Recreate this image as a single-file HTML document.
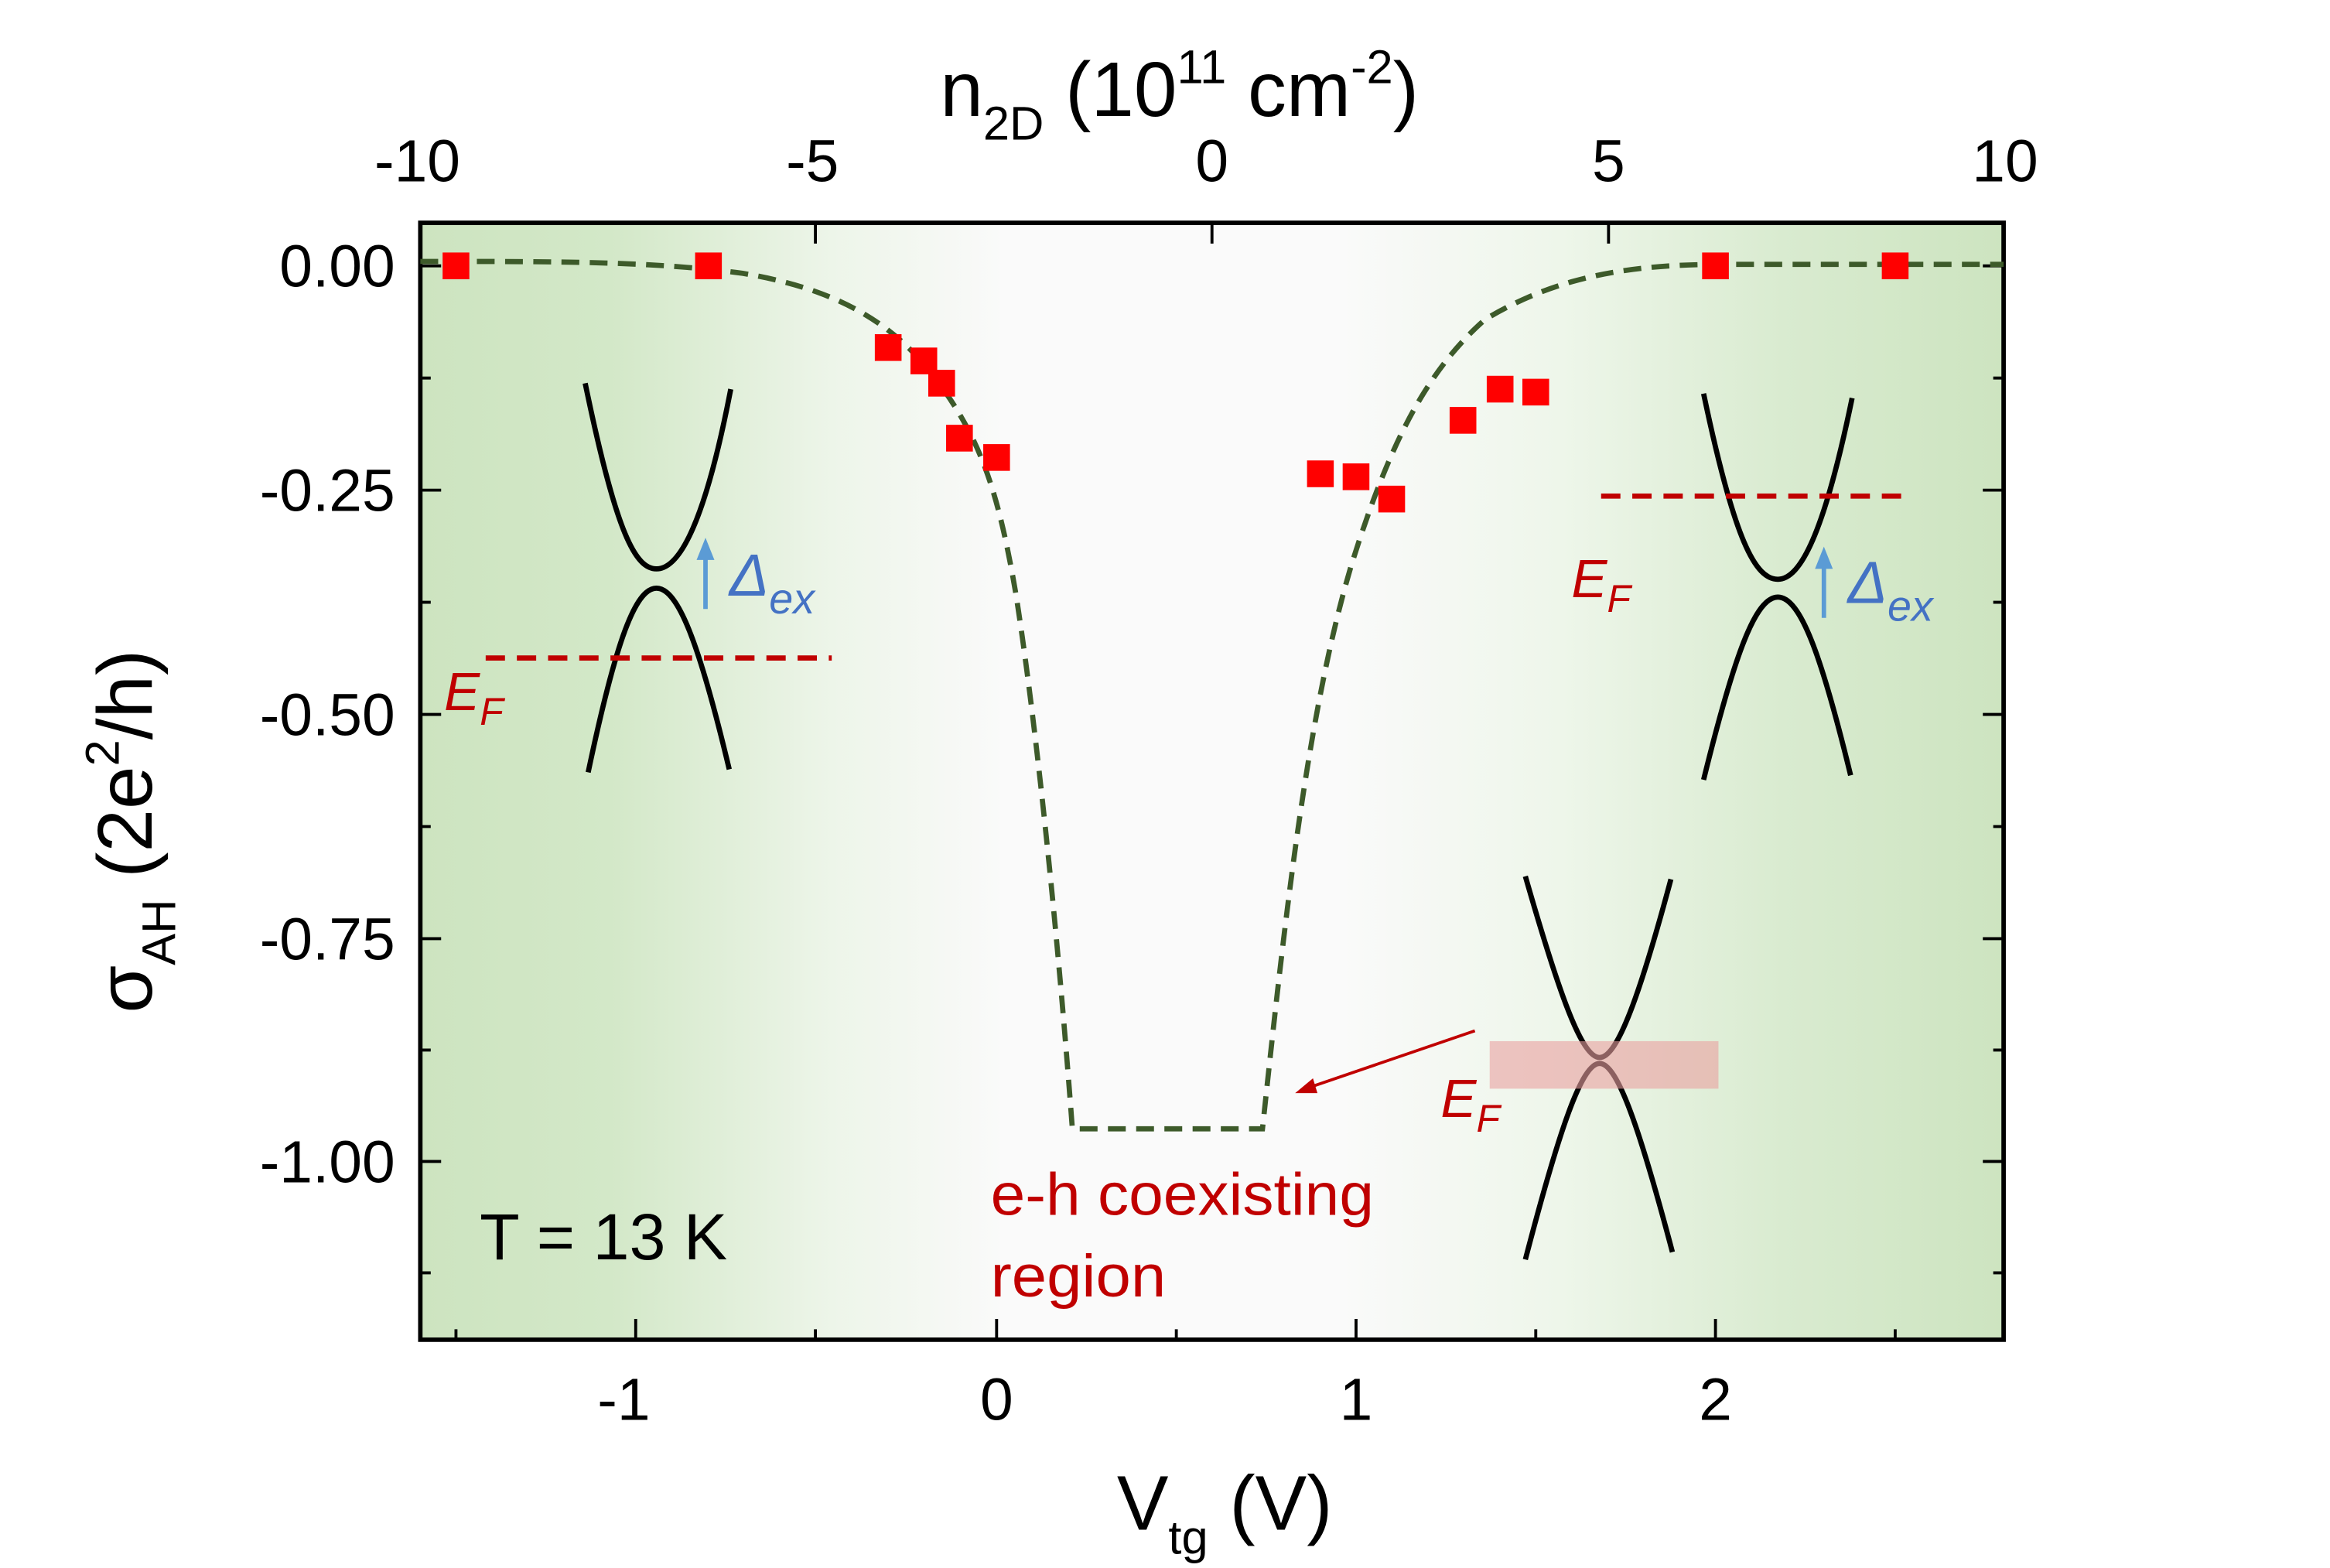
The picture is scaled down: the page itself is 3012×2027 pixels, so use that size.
<!DOCTYPE html>
<html><head><meta charset="utf-8"><style>
html,body{margin:0;padding:0;background:#fff;}
svg{display:block;}
text{font-family:"Liberation Sans",Arial,sans-serif;}
</style></head><body>
<svg width="3012" height="2027" viewBox="0 0 1568.75 1055.7" xmlns="http://www.w3.org/2000/svg">
<defs>
<linearGradient id="bg" x1="283" y1="0" x2="1349" y2="0" gradientUnits="userSpaceOnUse">
<stop offset="0" stop-color="#cde4c0"/>
<stop offset="0.12" stop-color="#d3e8c8"/>
<stop offset="0.26" stop-color="#edf5e9"/>
<stop offset="0.37" stop-color="#fafafa"/>
<stop offset="0.58" stop-color="#fafafa"/>
<stop offset="0.72" stop-color="#eef6ea"/>
<stop offset="0.86" stop-color="#d9ebd0"/>
<stop offset="1" stop-color="#cde4c0"/>
</linearGradient>
</defs>
<rect x="283" y="150" width="1066" height="752" fill="url(#bg)"/>

<g stroke="#000" stroke-width="2">
<path d="M283,179h14M283,330h14M283,481h14M283,632h14M283,782h14"/>
<path d="M283,254.5h7M283,405.5h7M283,556.5h7M283,707h7M283,857h7"/>
<path d="M1349,179h-14M1349,330h-14M1349,481h-14M1349,632h-14M1349,782h-14"/>
<path d="M1349,254.5h-7M1349,405.5h-7M1349,556.5h-7M1349,707h-7M1349,857h-7"/>
<path d="M428,902v-14M671,902v-14M913,902v-14M1155,902v-14"/>
<path d="M307,902v-7M549,902v-7M792,902v-7M1034,902v-7M1276,902v-7"/>
<path d="M549,150v14M816,150v14M1083,150v14"/>
</g>
<rect x="283" y="150" width="1066" height="752" fill="none" stroke="#000" stroke-width="3"/>

<g font-size="40" text-anchor="end" fill="#000">
<text x="266" y="193">0.00</text>
<text x="266" y="344">-0.25</text>
<text x="266" y="495">-0.50</text>
<text x="266" y="646">-0.75</text>
<text x="266" y="796">-1.00</text>
</g>
<g font-size="40" text-anchor="middle" fill="#000">
<text x="420" y="956">-1</text>
<text x="671" y="956">0</text>
<text x="913" y="956">1</text>
<text x="1155" y="956">2</text>
<text x="281" y="122">-10</text>
<text x="547" y="122">-5</text>
<text x="816" y="122">0</text>
<text x="1083" y="122">5</text>
<text x="1350" y="122">10</text>
</g>
<text x="752" y="1030" font-size="52">V<tspan font-size="32" dy="16">tg</tspan><tspan dy="-16"> (V)</tspan></text>
<text x="633" y="78" font-size="52">n<tspan font-size="32" dy="16">2D</tspan><tspan dy="-16"> (10</tspan><tspan font-size="32" dy="-22">11</tspan><tspan dy="22"> cm</tspan><tspan font-size="32" dy="-22">-2</tspan><tspan dy="22">)</tspan></text>
<text transform="translate(102,682) rotate(-90)" font-size="52">σ<tspan font-size="32" dy="16">AH</tspan><tspan dy="-16"> (2e</tspan><tspan font-size="32" dy="-22">2</tspan><tspan dy="22">/h)</tspan></text>

<path d="M283,176 C380,176 440,176 500,184 C560,194 600,215 630,255 C660,295 672,330 684,400 C695,470 710,600 722,760 L850,760 C865,620 880,480 910,380 C935,300 960,250 1000,215 C1050,185 1100,178 1160,178 L1349,178" fill="none" stroke="#3d5a2a" stroke-width="3.5" stroke-dasharray="12,7"/>

<g fill="#ff0000">
<rect x="298" y="170" width="18" height="18"/>
<rect x="468" y="170" width="18" height="18"/>
<rect x="589" y="225" width="18" height="18"/>
<rect x="613" y="234" width="18" height="18"/>
<rect x="625" y="249" width="18" height="18"/>
<rect x="637" y="286" width="18" height="18"/>
<rect x="662" y="299" width="18" height="18"/>
<rect x="880" y="310" width="18" height="18"/>
<rect x="904" y="312" width="18" height="18"/>
<rect x="928" y="327" width="18" height="18"/>
<rect x="976" y="274" width="18" height="18"/>
<rect x="1001" y="253" width="18" height="18"/>
<rect x="1025" y="255" width="18" height="18"/>
<rect x="1146" y="170" width="18" height="18"/>
<rect x="1267" y="170" width="18" height="18"/>
</g>

<g fill="none" stroke="#000" stroke-width="3.5">
<path d="M394,258 C415,360 428,383 442,383 C458,383 475,350 492,262"/>
<path d="M396,520 C415,430 428,396 442,396 C456,396 470,430 491,518"/>
<path d="M1147,265 C1168,365 1182,390 1197,390 C1212,390 1228,360 1247,268"/>
<path d="M1147,525 C1168,440 1182,402 1197,402 C1212,402 1226,440 1246,522"/>
<path d="M1027,590 C1050,670 1065,712 1077,712 C1089,712 1104,670 1125,592"/>
<path d="M1027,848 C1050,760 1065,716 1077,716 C1089,716 1104,760 1126,843"/>
</g>
<path d="M327,443H560" stroke="#c00000" stroke-width="3.5" stroke-dasharray="13,8"/>
<path d="M1078,334H1283" stroke="#c00000" stroke-width="3.5" stroke-dasharray="13,8"/>
<path d="M475,410V374" stroke="#5b9bd5" stroke-width="3"/>
<polygon points="469,377 475,362 481,377" fill="#5b9bd5"/>
<path d="M1228,416V380" stroke="#5b9bd5" stroke-width="3"/>
<polygon points="1222,383 1228,368 1234,383" fill="#5b9bd5"/>
<g font-style="italic" fill="#4472c4">
<text x="491" y="401" font-size="40">Δ<tspan font-size="29" dy="12">ex</tspan></text>
<text x="1244" y="406" font-size="40">Δ<tspan font-size="29" dy="12">ex</tspan></text>
</g>
<g font-style="italic" fill="#c00000">
<text x="299" y="478" font-size="36">E<tspan font-size="26" dy="10">F</tspan></text>
<text x="1058" y="402" font-size="36">E<tspan font-size="26" dy="10">F</tspan></text>
<text x="970" y="752" font-size="36">E<tspan font-size="26" dy="10">F</tspan></text>
</g>
<rect x="1003" y="701" width="154" height="32" fill="#eaa0a0" fill-opacity="0.6"/>
<path d="M993,694 L882,732" stroke="#c00000" stroke-width="2"/>
<polygon points="872,736 884,726 887,736" fill="#c00000"/>
<g fill="#c00000" font-size="40">
<text x="667" y="818" textLength="258" lengthAdjust="spacingAndGlyphs">e-h coexisting</text>
<text x="667" y="873" textLength="118" lengthAdjust="spacingAndGlyphs">region</text>
</g>
<text x="323" y="848" font-size="44" fill="#000">T = 13 K</text>
</svg>
</body></html>
